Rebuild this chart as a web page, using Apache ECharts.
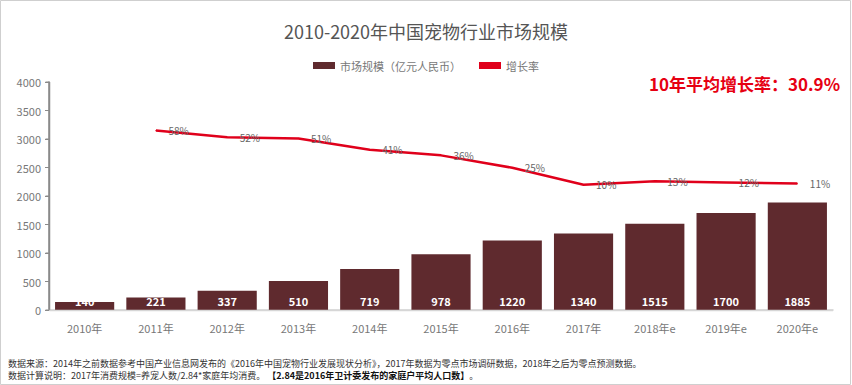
<!DOCTYPE html>
<html>
<head>
<meta charset="utf-8">
<script src="https://cdn.jsdelivr.net/npm/echarts@6/dist/echarts.min.js"></script>
<style>
html,body{margin:0;padding:0;background:#fff;}
#c{width:852px;height:385px;}
</style>
</head>
<body>
<div id="c"></div>
<script>
const categories = ['2010年','2011年','2012年','2013年','2014年','2015年','2016年','2017年','2018年e','2019年e','2020年e'];
const marketSize = [140, 221, 337, 510, 719, 978, 1220, 1340, 1515, 1700, 1885];
const growthRate = [null, 58, 52, 51, 41, 36, 25, 10, 13, 12, 11];
const yTicks = [0, 500, 1000, 1500, 2000, 2500, 3000, 3500, 4000];

const chart = echarts.init(document.getElementById('c'), null, { renderer: 'svg' });
const font = '"Noto Sans CJK SC", "Noto Sans", sans-serif';
const gridLeft = 49;
chart.setOption({
  backgroundColor: '#fff',
  animation: false,
  textStyle: { fontFamily: font },
  title: {
    text: '2010-2020年中国宠物行业市场规模',
    left: 'center', top: 17,
    textStyle: { fontSize: 18, fontWeight: 'normal', color: '#555', fontFamily: font }
  },
  legend: {
    top: 55, left: 'center',
    itemWidth: 22, itemHeight: 7, itemGap: 18,
    textStyle: { fontSize: 11, color: '#777' },
    data: [
      { name: '市场规模（亿元人民币）', icon: 'rect' },
      { name: '增长率', icon: 'rect', itemStyle: { color: '#e0001b' } }
    ]
  },
  grid: { left: gridLeft, right: 19, top: 82, bottom: 75 },
  xAxis: {
    type: 'category', data: categories,
    axisLine: { show: true, lineStyle: { color: '#d0d0d0', width: 1.5 } },
    axisTick: { show: false },
    axisLabel: { color: '#777', fontSize: 11, margin: 12 }
  },
  yAxis: [
    { type: 'value', min: 0, max: 4000, interval: 500, position: 'left',
      axisLine: { show: true, onZero: false, lineStyle: { color: '#8a8a8a', width: 1.5 } },
      axisTick: { show: true, length: 4, lineStyle: { color: '#8a8a8a', width: 1 } },
      splitLine: { show: false },
      axisLabel: { color: '#777', fontSize: 11, margin: 8,
        formatter: v => yTicks.includes(v) ? String(v) : '' } },
    { type: 'value', min: -101, max: 101, position: 'right', show: false,
      axisLine: { show: false }, splitLine: { show: false } }
  ],
  series: [
    { name: '市场规模（亿元人民币）', type: 'bar', data: marketSize,
      barCategoryGap: '17%',
      itemStyle: { color: '#5f2a2e' },
      label: { show: true, position: 'insideBottom', distance: 4, color: '#fff', fontWeight: 'bold', fontSize: 11 } },
    { name: '增长率', type: 'line', yAxisIndex: 1, data: growthRate,
      symbol: 'circle', symbolSize: 1, showSymbol: true,
      lineStyle: { color: '#e0001b', width: 2.5 },
      itemStyle: { color: '#e0001b' },
      label: { show: true, position: 'right', distance: 12, color: '#666', fontSize: 10,
        formatter: p => p.value + '%' } }
  ]
});

const extra = [];
try {
  const pTop = chart.convertToPixel({ gridIndex: 0 }, [0, yTicks[yTicks.length - 1]]);
  const pBot = chart.convertToPixel({ gridIndex: 0 }, [0, yTicks[0]]);
  const ax = gridLeft + 0.5;
  extra.push({ type: 'line', z: 100, shape: { x1: ax, y1: pTop[1], x2: ax, y2: pBot[1] }, style: { stroke: '#8a8a8a', lineWidth: 1.5 }, silent: true });
  yTicks.forEach(t => {
    const py = chart.convertToPixel({ gridIndex: 0 }, [0, t])[1];
    extra.push({ type: 'line', z: 100, shape: { x1: ax - 4, y1: py, x2: ax, y2: py }, style: { stroke: '#8a8a8a', lineWidth: 1 }, silent: true });
  });
  const rightEdge = chart.getWidth() - 19;
  extra.push({ type: 'line', z: 100, shape: { x1: ax, y1: pBot[1] + 0.5, x2: rightEdge, y2: pBot[1] + 0.5 }, style: { stroke: '#d6d6d6', lineWidth: 1.5 }, silent: true });
} catch (e) {}

chart.setOption({
  graphic: [
    { type: 'text', right: 12, top: 75,
      style: { text: '10年平均增长率：30.9%', fill: '#e60012', font: 'bold 17px ' + font } },
    { type: 'text', left: 8, top: 359,
      style: { text: '数据来源：2014年之前数据参考中国产业信息网发布的《2016年中国宠物行业发展现状分析》，2017年数据为零点市场调研数据，2018年之后为零点预测数据。', fill: '#333', font: '9px ' + font } },
    { type: 'text', left: 8, top: 371,
      style: { rich: { a: { fill: '#333', font: '9px ' + font }, b: { fill: '#111', font: 'bold 9px ' + font } },
        text: '{a|数据计算说明：2017年消费规模=养宠人数/2.84*家庭年均消费。 }{b|【2.84是2016年卫计委发布的家庭户平均人口数】}{a|。}' } },
    { type: 'rect', shape: { x: 0.5, y: 0.5, width: 850, height: 384 }, style: { fill: 'none', stroke: '#cfcfcf', lineWidth: 1 }, silent: true }
  ].concat(extra)
});
</script>
</body>
</html>
